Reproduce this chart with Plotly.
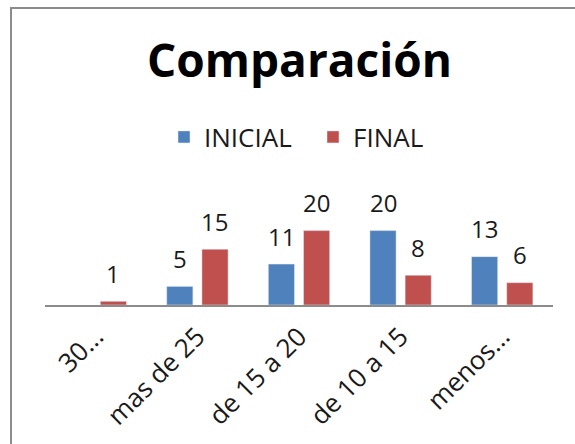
import plotly.graph_objects as go

categories = ["30...", "mas de 25", "de 15 a 20", "de 10 a 15", "menos..."]
inicial = [None, 5, 11, 20, 13]
final = [1, 15, 20, 8, 6]
series_names = ["INICIAL", "FINAL"]
title_text = "Comparación"

BLUE = "#4F81BD"
RED = "#C0504D"
FONT = "Open Sans"

W, H = 575, 444
L, R = 45, 553          # plot area x in px
TOP, BASE = 212, 305    # plot area y in px
pw, ph = R - L, BASE - TOP

fig = go.Figure()
fig.add_trace(go.Bar(x=categories, y=inicial, name=series_names[0], marker_color=BLUE))
fig.add_trace(go.Bar(x=categories, y=final, name=series_names[1], marker_color=RED))

# data labels
slot_half = 17.5
for vals, shift in ((inicial, -slot_half), (final, slot_half)):
    for c, v in zip(categories, vals):
        if v is None:
            continue
        fig.add_annotation(x=c, y=v, text=str(v), showarrow=False,
                           xshift=shift, yshift=28, yanchor="middle",
                           font=dict(family=FONT, size=24, color="#1a1a1a"))

def px_x(p):
    return (p - L) / pw

def px_y(p):
    return (BASE - p) / ph

# outer chart frame
fig.add_shape(type="rect", xref="paper", yref="paper",
              x0=px_x(11), x1=px_x(W + 20), y0=px_y(H + 20), y1=px_y(8),
              line=dict(color="#8c8c8c", width=2), layer="below")

fig.update_layout(
    width=W, height=H,
    margin=dict(l=L, r=W - R, t=TOP, b=H - BASE, pad=0, autoexpand=False),
    paper_bgcolor="white", plot_bgcolor="white",
    bargap=0.307, bargroupgap=0.257,
    title=dict(text=title_text, x=299.5 / W, xanchor="center",
               y=1 - 61 / H, yanchor="middle", yref="container", xref="container",
               font=dict(family=FONT, size=46, color="black", weight="bold")),
    legend=dict(orientation="h", xref="container", yref="container",
                x=313 / W, xanchor="center", y=1 - 137 / H, yanchor="middle",
                entrywidth=104,
                font=dict(family=FONT, size=26, color="#1a1a1a"),
                bgcolor="rgba(0,0,0,0)"),
    xaxis=dict(showline=True, linecolor="#8c8c8c", linewidth=2, ticks="",
               tickangle=-45, showgrid=False, zeroline=False, automargin=False,
               ticklabelstandoff=4,
               tickfont=dict(family=FONT, size=26, color="#1a1a1a")),
    yaxis=dict(range=[0, 25], visible=False, showgrid=False, zeroline=False,
               automargin=False),
    showlegend=True,
)

fig.write_html("out.html")
